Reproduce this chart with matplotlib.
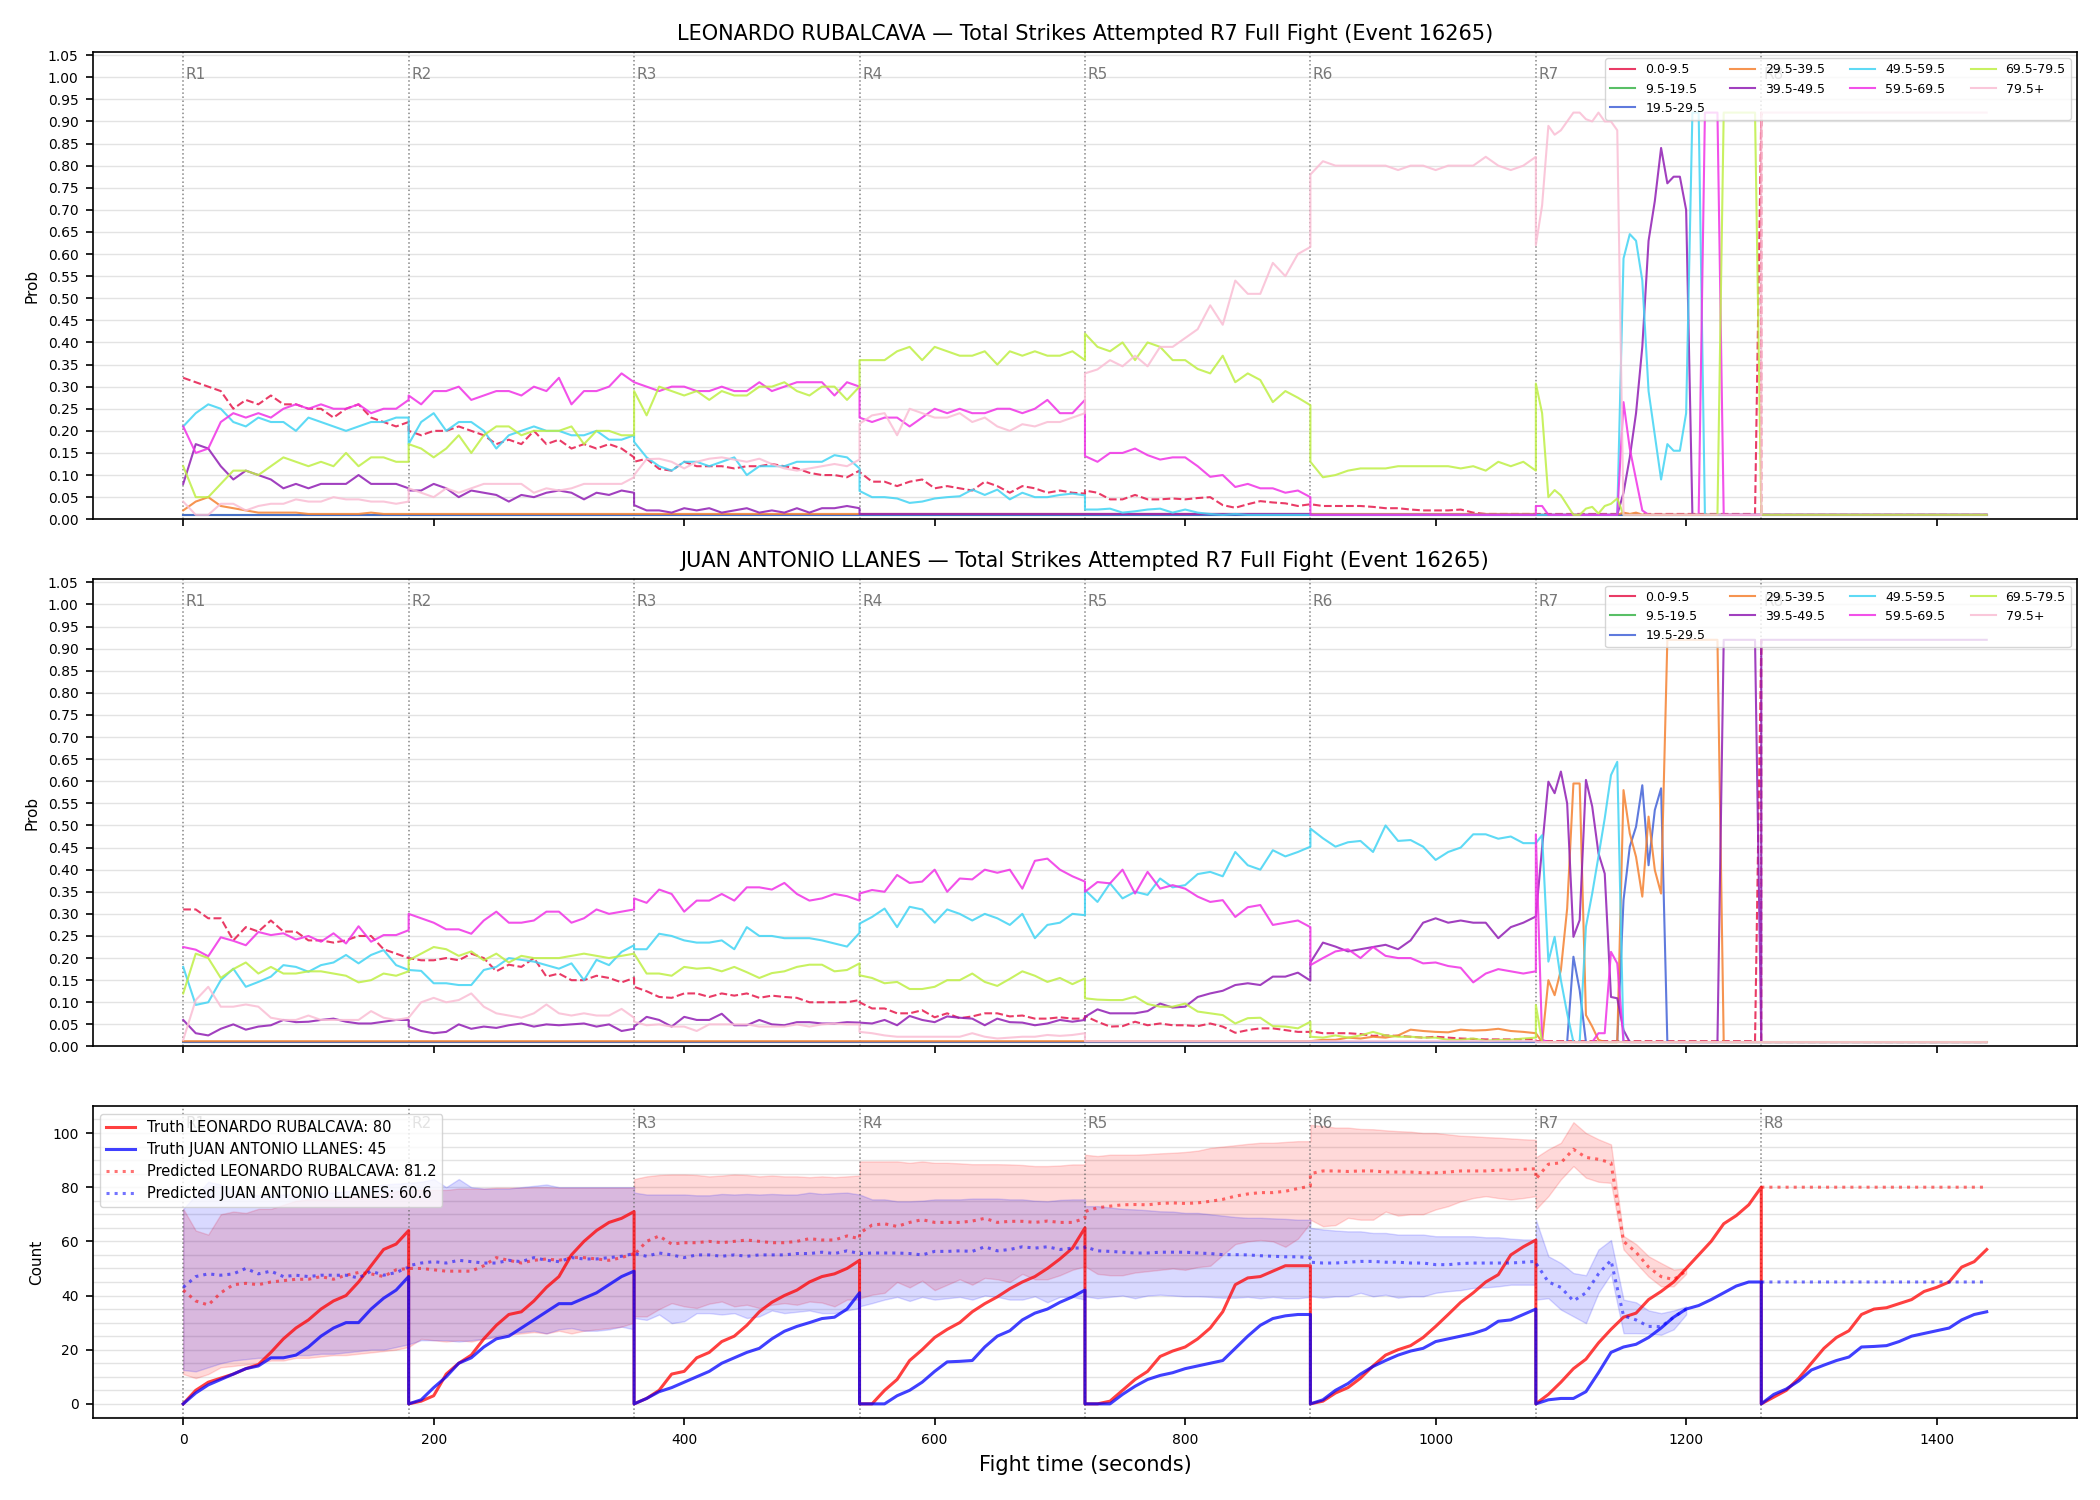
import numpy as np
import matplotlib.pyplot as plt
import matplotlib.transforms as mtransforms
from matplotlib.lines import Line2D
from matplotlib.ticker import MultipleLocator, FormatStrFormatter

nan = float("nan")

fighter_a = "LEONARDO RUBALCAVA"
fighter_b = "JUAN ANTONIO LLANES"
stat_title = "Total Strikes Attempted R7 Full Fight (Event 16265)"

round_starts = [0, 180, 360, 540, 720, 900, 1080, 1260]
round_names = ["R1", "R2", "R3", "R4", "R5", "R6", "R7", "R8"]
# seconds between samples inside each round (R7 is denser)
prob_steps = [10, 10, 10, 10, 10, 10, 5, 10]
count_steps = [10, 10, 10, 10, 10, 10, 10, 10]

bin_labels = ["0.0-9.5", "9.5-19.5", "19.5-29.5", "29.5-39.5", "39.5-49.5",
              "49.5-59.5", "59.5-69.5", "69.5-79.5", "79.5+"]
bin_colors = ["#e6194b", "#3cb44b", "#4363d8", "#f58231", "#911eb4",
              "#42d4f4", "#f032e6", "#bfef45", "#fabed4"]

truth_a = 80
truth_b = 45
pred_a = 81.2
pred_b = 60.6

# ---------------- bin probabilities, LEONARDO RUBALCAVA ----------------
rub_0 = ([0.32, 0.31, 0.30, 0.29, 0.25, 0.27, 0.26, 0.28, 0.26, 0.26, 0.25, 0.25, 0.23, 0.25, 0.26, 0.23, 0.22, 0.21, 0.22]
         + [0.20, 0.19, 0.20, 0.20, 0.21, 0.20, 0.19, 0.17, 0.18, 0.17, 0.20, 0.17, 0.18, 0.16, 0.17, 0.16, 0.17, 0.16, 0.14]
         + [0.13, 0.137, 0.114, 0.11, 0.13, 0.12, 0.12, 0.12, 0.115, 0.12, 0.12, 0.125, 0.12, 0.115, 0.105, 0.10, 0.10, 0.095, 0.11]
         + [0.107, 0.085, 0.085, 0.075, 0.085, 0.09, 0.07, 0.075, 0.07, 0.065, 0.085, 0.075, 0.06, 0.075, 0.07, 0.06, 0.065, 0.06, 0.058]
         + [0.065, 0.06, 0.045, 0.045, 0.055, 0.045, 0.045, 0.047, 0.045, 0.048, 0.05, 0.032, 0.026, 0.034, 0.041, 0.038, 0.036, 0.03, 0.034]
         + [0.034, 0.03, 0.03, 0.03, 0.03, 0.028, 0.025, 0.025, 0.022, 0.02, 0.02, 0.02, 0.022, 0.015, 0.012, 0.012, 0.012, 0.012, 0.012]
         + [0.012] * 36 + [0.92]
         + [0.01] * 19)
rub_10 = [0.01] * 170
rub_20 = [0.01] * 170
rub_30 = ([0.02, 0.04, 0.05, 0.03, 0.025, 0.02, 0.015, 0.015, 0.015, 0.015, 0.012, 0.012, 0.012, 0.012, 0.012, 0.015, 0.012, 0.012, 0.012]
          + [0.012] * 95
          + [0.01] * 14 + [0.015, 0.012, 0.015] + [0.01] * 20
          + [0.01] * 19)
rub_40 = ([0.08, 0.17, 0.16, 0.12, 0.09, 0.11, 0.10, 0.09, 0.07, 0.08, 0.07, 0.08, 0.08, 0.08, 0.10, 0.08, 0.08, 0.08, 0.07]
          + [0.065, 0.065, 0.08, 0.07, 0.05, 0.065, 0.06, 0.055, 0.04, 0.055, 0.05, 0.06, 0.065, 0.06, 0.045, 0.06, 0.055, 0.065, 0.06]
          + [0.032, 0.02, 0.02, 0.015, 0.025, 0.02, 0.025, 0.015, 0.02, 0.025, 0.015, 0.02, 0.015, 0.025, 0.015, 0.025, 0.025, 0.03, 0.025]
          + [0.012] * 38
          + [0.01] * 19
          + [0.01] * 14 + [0.06, 0.14, 0.24, 0.39, 0.63, 0.72, 0.84, 0.76, 0.775, 0.775, 0.70] + [0.01] * 12
          + [0.01] * 19)
rub_50 = ([0.21, 0.24, 0.26, 0.25, 0.22, 0.21, 0.23, 0.22, 0.22, 0.20, 0.23, 0.22, 0.21, 0.20, 0.21, 0.22, 0.22, 0.23, 0.23]
          + [0.17, 0.22, 0.24, 0.20, 0.22, 0.22, 0.20, 0.16, 0.19, 0.20, 0.21, 0.20, 0.20, 0.19, 0.19, 0.20, 0.18, 0.18, 0.19]
          + [0.175, 0.14, 0.12, 0.11, 0.13, 0.13, 0.12, 0.13, 0.14, 0.10, 0.12, 0.12, 0.12, 0.13, 0.13, 0.13, 0.145, 0.14, 0.115]
          + [0.064, 0.05, 0.05, 0.047, 0.037, 0.04, 0.047, 0.05, 0.052, 0.067, 0.055, 0.067, 0.045, 0.06, 0.05, 0.05, 0.055, 0.058, 0.054]
          + [0.022, 0.022, 0.024, 0.015, 0.018, 0.022, 0.024, 0.015, 0.022, 0.015, 0.012, 0.01, 0.012, 0.01, 0.01, 0.01, 0.01, 0.01, 0.01]
          + [0.01] * 19
          + [0.01] * 14 + [0.59, 0.645, 0.63, 0.54, 0.29, 0.19, 0.09, 0.17, 0.155, 0.155, 0.24, 0.92, 0.92] + [0.01] * 10
          + [0.01] * 19)
rub_60 = ([0.21, 0.15, 0.16, 0.22, 0.24, 0.23, 0.24, 0.23, 0.25, 0.26, 0.25, 0.26, 0.25, 0.25, 0.26, 0.24, 0.25, 0.25, 0.27]
          + [0.28, 0.26, 0.29, 0.29, 0.30, 0.27, 0.28, 0.29, 0.29, 0.28, 0.30, 0.29, 0.32, 0.26, 0.29, 0.29, 0.30, 0.33, 0.31]
          + [0.31, 0.30, 0.29, 0.30, 0.30, 0.29, 0.29, 0.30, 0.29, 0.29, 0.31, 0.29, 0.30, 0.31, 0.31, 0.31, 0.28, 0.31, 0.30]
          + [0.23, 0.22, 0.23, 0.23, 0.21, 0.23, 0.25, 0.24, 0.25, 0.24, 0.24, 0.25, 0.25, 0.24, 0.25, 0.27, 0.24, 0.24, 0.27]
          + [0.143, 0.13, 0.15, 0.15, 0.16, 0.145, 0.135, 0.14, 0.14, 0.12, 0.096, 0.10, 0.073, 0.08, 0.07, 0.07, 0.06, 0.065, 0.05]
          + [0.01] * 19
          + [0.03, 0.03] + [0.01] * 12 + [0.265, 0.16, 0.09, 0.02] + [0.01] * 9 + [0.92] * 3 + [0.01] * 7
          + [0.01] * 19)
rub_70 = ([0.12, 0.05, 0.05, 0.08, 0.11, 0.11, 0.10, 0.12, 0.14, 0.13, 0.12, 0.13, 0.12, 0.15, 0.12, 0.14, 0.14, 0.13, 0.13]
          + [0.17, 0.16, 0.14, 0.16, 0.19, 0.15, 0.19, 0.21, 0.21, 0.19, 0.20, 0.20, 0.20, 0.21, 0.17, 0.20, 0.20, 0.19, 0.19]
          + [0.29, 0.235, 0.30, 0.29, 0.28, 0.29, 0.27, 0.29, 0.28, 0.28, 0.30, 0.30, 0.31, 0.29, 0.28, 0.30, 0.30, 0.27, 0.30]
          + [0.36, 0.36, 0.36, 0.38, 0.39, 0.36, 0.39, 0.38, 0.37, 0.37, 0.38, 0.35, 0.38, 0.37, 0.38, 0.37, 0.37, 0.38, 0.36]
          + [0.42, 0.39, 0.38, 0.40, 0.36, 0.40, 0.39, 0.36, 0.36, 0.34, 0.33, 0.37, 0.31, 0.33, 0.315, 0.265, 0.29, 0.275, 0.258]
          + [0.13, 0.095, 0.10, 0.11, 0.115, 0.115, 0.115, 0.12, 0.12, 0.12, 0.12, 0.12, 0.115, 0.12, 0.11, 0.13, 0.12, 0.13, 0.11]
          + [0.307, 0.24, 0.05, 0.066, 0.054, 0.032, 0.01, 0.01, 0.024, 0.028, 0.013, 0.03, 0.035, 0.047] + [0.01] * 16 + [0.92] * 6 + [0.01]
          + [0.01] * 19)
rub_80 = ([0.04, 0.01, 0.01, 0.035, 0.035, 0.02, 0.03, 0.035, 0.035, 0.045, 0.04, 0.04, 0.05, 0.045, 0.045, 0.04, 0.04, 0.035, 0.04]
          + [0.07, 0.06, 0.05, 0.07, 0.06, 0.07, 0.08, 0.08, 0.08, 0.08, 0.06, 0.07, 0.065, 0.07, 0.08, 0.08, 0.08, 0.08, 0.095]
          + [0.10, 0.136, 0.137, 0.13, 0.115, 0.13, 0.137, 0.14, 0.135, 0.13, 0.137, 0.125, 0.115, 0.11, 0.115, 0.12, 0.125, 0.12, 0.135]
          + [0.216, 0.235, 0.24, 0.19, 0.25, 0.24, 0.23, 0.23, 0.24, 0.22, 0.23, 0.21, 0.20, 0.215, 0.21, 0.22, 0.22, 0.23, 0.24]
          + [0.33, 0.339, 0.36, 0.346, 0.37, 0.346, 0.39, 0.39, 0.41, 0.43, 0.484, 0.44, 0.54, 0.51, 0.51, 0.58, 0.55, 0.60, 0.616]
          + [0.78, 0.81, 0.80, 0.80, 0.80, 0.80, 0.80, 0.79, 0.80, 0.80, 0.79, 0.80, 0.80, 0.80, 0.82, 0.80, 0.79, 0.80, 0.82]
          + [0.62, 0.71, 0.89, 0.87, 0.88, 0.90, 0.92, 0.92, 0.905, 0.90, 0.92, 0.90, 0.90, 0.88] + [0.01] * 23
          + [0.92] * 19)

# ---------------- bin probabilities, JUAN ANTONIO LLANES ----------------
lla_0 = ([0.31, 0.31, 0.29, 0.29, 0.24, 0.27, 0.26, 0.285, 0.26, 0.26, 0.24, 0.24, 0.235, 0.24, 0.25, 0.25, 0.22, 0.21, 0.20]
         + [0.20, 0.195, 0.195, 0.20, 0.195, 0.21, 0.20, 0.17, 0.185, 0.18, 0.20, 0.158, 0.165, 0.15, 0.15, 0.16, 0.155, 0.145, 0.155]
         + [0.135, 0.125, 0.112, 0.11, 0.12, 0.12, 0.112, 0.12, 0.115, 0.12, 0.11, 0.115, 0.112, 0.11, 0.10, 0.10, 0.10, 0.10, 0.105]
         + [0.10, 0.086, 0.086, 0.075, 0.075, 0.082, 0.066, 0.075, 0.064, 0.068, 0.075, 0.075, 0.068, 0.07, 0.063, 0.063, 0.066, 0.063, 0.063]
         + [0.069, 0.056, 0.045, 0.046, 0.056, 0.048, 0.052, 0.048, 0.048, 0.046, 0.052, 0.045, 0.031, 0.037, 0.041, 0.041, 0.037, 0.033, 0.033]
         + [0.035, 0.03, 0.03, 0.03, 0.028, 0.024, 0.025, 0.024, 0.022, 0.02, 0.022, 0.02, 0.018, 0.017, 0.016, 0.016, 0.016, 0.016, 0.016]
         + [0.012] * 36 + [0.92]
         + [0.01] * 19)
lla_10 = [0.01] * 170
lla_20 = ([0.01] * 114
          + [0.01] * 6 + [0.203, 0.127] + [0.01] * 6 + [0.331, 0.452, 0.497, 0.591, 0.41, 0.535, 0.584] + [0.01] * 16
          + [0.01] * 19)
lla_30 = ([0.012] * 95
          + [0.012, 0.015, 0.015, 0.02, 0.018, 0.022, 0.02, 0.025, 0.038, 0.035, 0.033, 0.032, 0.038, 0.036, 0.037, 0.04, 0.035, 0.033, 0.03]
          + [0.03, 0.01, 0.15, 0.116, 0.173, 0.312, 0.595, 0.595, 0.071, 0.045, 0.015, 0.01, 0.01, 0.01,
             0.58, 0.482, 0.429, 0.339, 0.52, 0.399, 0.346] + [0.92] * 9 + [0.01] * 7
          + [0.01] * 19)
lla_40 = ([0.06, 0.03, 0.025, 0.04, 0.05, 0.038, 0.045, 0.048, 0.06, 0.055, 0.056, 0.06, 0.063, 0.056, 0.052, 0.052, 0.056, 0.06, 0.06]
          + [0.045, 0.035, 0.03, 0.033, 0.05, 0.04, 0.045, 0.042, 0.048, 0.052, 0.045, 0.05, 0.048, 0.05, 0.052, 0.045, 0.05, 0.035, 0.04]
          + [0.045, 0.067, 0.06, 0.045, 0.067, 0.06, 0.06, 0.074, 0.048, 0.048, 0.06, 0.05, 0.048, 0.055, 0.055, 0.052, 0.052, 0.055, 0.054]
          + [0.054, 0.052, 0.06, 0.048, 0.069, 0.06, 0.055, 0.068, 0.065, 0.063, 0.048, 0.063, 0.055, 0.054, 0.048, 0.052, 0.06, 0.056, 0.06]
          + [0.067, 0.084, 0.075, 0.075, 0.075, 0.08, 0.097, 0.088, 0.09, 0.112, 0.12, 0.126, 0.139, 0.143, 0.139, 0.158, 0.158, 0.167, 0.149]
          + [0.19, 0.235, 0.226, 0.215, 0.22, 0.225, 0.23, 0.22, 0.24, 0.28, 0.29, 0.28, 0.285, 0.28, 0.28, 0.245, 0.27, 0.28, 0.294]
          + [0.294, 0.45, 0.599, 0.573, 0.622, 0.55, 0.248, 0.286, 0.603, 0.543, 0.437, 0.391, 0.112, 0.109, 0.037, 0.01]
          + [0.01] * 14 + [0.92] * 6 + [0.01]
          + [0.92] * 19)
lla_50 = ([0.18, 0.094, 0.10, 0.15, 0.176, 0.135, 0.146, 0.158, 0.184, 0.18, 0.169, 0.184, 0.19, 0.207, 0.188, 0.207, 0.218, 0.184, 0.173]
          + [0.173, 0.171, 0.143, 0.143, 0.139, 0.139, 0.173, 0.18, 0.20, 0.196, 0.192, 0.184, 0.176, 0.188, 0.15, 0.196, 0.184, 0.214, 0.229]
          + [0.22, 0.22, 0.255, 0.25, 0.24, 0.235, 0.235, 0.24, 0.22, 0.27, 0.25, 0.25, 0.245, 0.245, 0.245, 0.24, 0.233, 0.226, 0.257]
          + [0.278, 0.293, 0.312, 0.27, 0.316, 0.31, 0.28, 0.31, 0.30, 0.285, 0.30, 0.29, 0.275, 0.30, 0.245, 0.275, 0.28, 0.30, 0.297]
          + [0.354, 0.327, 0.369, 0.335, 0.35, 0.343, 0.38, 0.36, 0.365, 0.39, 0.395, 0.385, 0.44, 0.41, 0.40, 0.444, 0.43, 0.44, 0.452]
          + [0.493, 0.471, 0.452, 0.462, 0.465, 0.44, 0.50, 0.465, 0.467, 0.452, 0.422, 0.44, 0.45, 0.48, 0.48, 0.47, 0.475, 0.46, 0.46]
          + [0.46, 0.478, 0.192, 0.248, 0.15, 0.075, 0.01, 0.01, 0.271, 0.346, 0.43, 0.516, 0.614, 0.644] + [0.01] * 23
          + [0.01] * 19)
lla_60 = ([0.225, 0.219, 0.204, 0.247, 0.239, 0.229, 0.259, 0.252, 0.256, 0.242, 0.25, 0.237, 0.256, 0.233, 0.272, 0.237, 0.252, 0.252, 0.263]
          + [0.30, 0.29, 0.28, 0.265, 0.265, 0.255, 0.285, 0.305, 0.28, 0.28, 0.285, 0.305, 0.305, 0.28, 0.29, 0.31, 0.30, 0.305, 0.31]
          + [0.335, 0.325, 0.355, 0.345, 0.305, 0.33, 0.33, 0.345, 0.33, 0.36, 0.36, 0.355, 0.37, 0.345, 0.33, 0.335, 0.345, 0.34, 0.33]
          + [0.346, 0.354, 0.35, 0.388, 0.37, 0.373, 0.40, 0.35, 0.38, 0.378, 0.40, 0.393, 0.40, 0.357, 0.42, 0.425, 0.40, 0.385, 0.373]
          + [0.35, 0.372, 0.369, 0.40, 0.346, 0.395, 0.357, 0.365, 0.357, 0.339, 0.327, 0.331, 0.293, 0.315, 0.32, 0.275, 0.28, 0.285, 0.27]
          + [0.184, 0.20, 0.215, 0.22, 0.20, 0.225, 0.205, 0.20, 0.20, 0.188, 0.19, 0.182, 0.178, 0.145, 0.165, 0.175, 0.17, 0.165, 0.17]
          + [0.48, 0.015] + [0.01] * 8 + [0.03, 0.03, 0.214, 0.188] + [0.01] * 23
          + [0.01] * 19)
lla_70 = ([0.12, 0.21, 0.20, 0.155, 0.175, 0.19, 0.165, 0.18, 0.165, 0.165, 0.17, 0.17, 0.165, 0.16, 0.145, 0.15, 0.165, 0.16, 0.17]
          + [0.195, 0.21, 0.225, 0.22, 0.205, 0.215, 0.195, 0.21, 0.19, 0.205, 0.20, 0.20, 0.20, 0.205, 0.21, 0.205, 0.20, 0.205, 0.21]
          + [0.21, 0.165, 0.165, 0.16, 0.18, 0.176, 0.178, 0.17, 0.18, 0.168, 0.155, 0.166, 0.17, 0.18, 0.185, 0.185, 0.17, 0.173, 0.188]
          + [0.161, 0.155, 0.143, 0.146, 0.13, 0.13, 0.135, 0.15, 0.15, 0.165, 0.146, 0.137, 0.153, 0.17, 0.16, 0.146, 0.155, 0.141, 0.154]
          + [0.109, 0.106, 0.105, 0.105, 0.113, 0.096, 0.09, 0.09, 0.097, 0.079, 0.075, 0.071, 0.052, 0.064, 0.065, 0.046, 0.045, 0.041, 0.056]
          + [0.022, 0.02, 0.025, 0.02, 0.025, 0.033, 0.025, 0.022, 0.022, 0.02, 0.02, 0.015, 0.015, 0.018, 0.013, 0.015, 0.015, 0.018, 0.02]
          + [0.094] + [0.01] * 36
          + [0.01] * 19)
lla_80 = ([0.015, 0.105, 0.135, 0.09, 0.09, 0.095, 0.09, 0.065, 0.06, 0.06, 0.07, 0.06, 0.06, 0.06, 0.06, 0.08, 0.065, 0.06, 0.065]
          + [0.065, 0.10, 0.11, 0.10, 0.105, 0.12, 0.09, 0.075, 0.07, 0.065, 0.075, 0.095, 0.075, 0.07, 0.075, 0.07, 0.07, 0.085, 0.065]
          + [0.056, 0.048, 0.05, 0.045, 0.045, 0.035, 0.05, 0.05, 0.05, 0.05, 0.045, 0.045, 0.045, 0.05, 0.045, 0.05, 0.052, 0.05, 0.05]
          + [0.033, 0.03, 0.025, 0.022, 0.022, 0.022, 0.022, 0.022, 0.022, 0.03, 0.022, 0.018, 0.02, 0.022, 0.022, 0.026, 0.024, 0.026, 0.03]
          + [0.012] * 38
          + [0.01] * 37
          + [0.01] * 19)

# ---------------- cumulative strike counts (per round) ----------------
truth_red = ([0, 5, 8, 9.5, 11, 13, 14.5, 19, 24, 28, 31, 35, 38, 40, 45, 51, 57, 59, 64]
             + [0, 1, 3, 11, 15, 18, 24, 29, 33, 34, 38, 43, 47, 55, 60, 64, 67, 68.5, 71]
             + [0, 2, 5, 11, 12, 17, 19, 23, 25, 29, 34, 37.5, 40, 42, 45, 47, 48, 50, 53]
             + [0, 0, 5, 9, 16, 20, 24.5, 27.5, 30, 34, 37, 39.5, 42.5, 45, 47, 50, 53.5, 57.5, 65]
             + [0, 0, 1, 5, 9, 12, 17.5, 19.5, 21, 24, 28, 34, 44, 46.5, 47, 49, 51, 51, 51]
             + [0, 1, 4, 6, 9.5, 14, 18, 20, 21.5, 24.5, 28.6, 33, 37.5, 41, 45, 47.7, 55, 58, 60.5]
             + [0, 3.5, 8, 13, 16.5, 22.5, 27.5, 32, 33.5, 38.5, 41.5, 45, 50, 55, 60, 66.5, 69.5, 73.5, 80]
             + [0, 2.5, 5, 9.5, 15, 20.5, 24.5, 27, 33, 35, 35.5, 37, 38.5, 41.5, 43, 45, 50.5, 52.5, 57])
truth_blue = ([0, 4, 7, 9, 11, 13, 14, 17, 17, 18, 21, 25, 28, 30, 30, 35, 39, 42, 47]
              + [0, 1.5, 6, 10, 15, 17, 21, 24, 25, 28, 31, 34, 37, 37, 39, 41, 44, 47, 49]
              + [0, 2, 4.5, 6, 8, 10, 12, 15, 17, 19, 20.5, 24, 26.8, 28.6, 30, 31.5, 32, 35, 41]
              + [0, 0, 0, 3, 5, 8, 12, 15.5, 15.7, 16, 21, 25, 27, 31, 33.5, 35, 37.5, 39.5, 42]
              + [0, 0, 0, 3.5, 6.5, 9, 10.5, 11.5, 13, 14, 15, 16, 20.5, 25, 29, 31.5, 32.5, 33, 33]
              + [0, 1.5, 5, 7.5, 11, 13.8, 16, 18, 19.5, 20.5, 23, 24, 25, 26, 27.5, 30.5, 31, 33, 35]
              + [0, 1.5, 2, 2, 4.5, 11.5, 19, 21, 22, 24.5, 28, 32, 35, 36.3, 38.5, 41, 43.5, 45, 45]
              + [0, 3.5, 5.5, 8.5, 12.5, 14.3, 16, 17.3, 21, 21.2, 21.5, 23, 25, 26, 27, 28, 31, 33, 34])
pred_red = ([42, 38, 36.5, 41, 44, 44.5, 44, 45, 45.5, 46, 46, 47, 46, 47.5, 48.5, 48, 47, 49.5, 50]
            + [50, 50, 49.5, 49, 49, 49, 51, 54, 53, 52, 53, 53.5, 53, 54, 54, 53.5, 53, 54, 55.5]
            + [55, 60, 62, 59, 59.5, 59.5, 60, 59.5, 60, 60.5, 60, 59.5, 59.5, 60, 61, 60.5, 60.5, 62, 61]
            + [63, 66, 66.5, 65.5, 67, 68, 67, 67, 67, 67.5, 68.5, 67, 67.4, 67.4, 67, 67.5, 67, 67, 68.5]
            + [71, 72.4, 73, 73.5, 73.6, 73.5, 74, 74.2, 74, 74.2, 74.8, 75.5, 76.7, 77.5, 78, 78, 78.5, 79.5, 80.4]
            + [85, 86, 86, 85.8, 86, 86, 85.6, 85.6, 85.6, 85.3, 85.3, 85.6, 86, 86, 86, 86.3, 86.3, 86.6, 86.8]
            + [83, 88.5, 89, 94, 91, 90.3, 89, 60, 56, 50.5, 47, 45.9, 49] + [nan] * 6
            + [80] * 19)
pred_blue = ([43, 47, 48, 47.5, 48, 50, 48, 49, 47, 47.5, 47, 47.5, 47.5, 47.5, 46.5, 49, 47.5, 48.5, 50.5]
             + [51, 52, 52.5, 52, 53, 52.5, 52, 52, 53, 52.5, 54, 53, 52.5, 54, 53.5, 53.5, 54, 54.5, 55.5]
             + [55.5, 54.5, 55.7, 55, 54, 55, 55, 54.5, 55, 54.5, 55, 55, 55, 55.5, 55.5, 56, 55.5, 56.5, 55.5]
             + [55.5, 55.7, 55.7, 55.7, 55.5, 55, 56.3, 56.3, 56.5, 56.3, 58, 56.5, 57, 58, 57.5, 58, 57, 57.5, 57.6]
             + [58, 56.5, 56.3, 56, 55.7, 55.7, 56, 56, 56, 55.7, 55.5, 55.1, 55.1, 55, 54.7, 54.5, 54.3, 54.3, 54]
             + [52.3, 52, 52, 52.3, 52.6, 52.6, 52.3, 52.3, 52, 52, 51.4, 51.4, 51.8, 52, 52, 52, 52, 52.3, 52.6]
             + [52, 45, 43, 38, 41, 48, 53, 32.5, 31, 28.6, 28.5, 32, 35] + [nan] * 6
             + [45] * 19)
band_red_hi = ([72, 64, 62.5, 70, 71, 70.5, 72, 72, 73.5, 75, 75.5, 75.5, 75.5, 76, 76.5, 77, 77.5, 78.5, 79]
               + [79, 79, 79, 79, 79.5, 79.5, 79.5, 79.8, 79.8, 79.8, 80, 80, 79.8, 79.8, 79.8, 79.8, 79.8, 79.8, 79.8]
               + [83, 84, 84.5, 84.7, 84.7, 84.5, 84, 84.3, 84.7, 84.5, 84, 84.3, 84, 84, 83.7, 84, 83.7, 84, 84.3]
               + [89.5, 89.5, 89.5, 89.5, 89, 89.5, 89, 89, 88.8, 88.5, 88.5, 88.5, 88.4, 88.2, 87.8, 87.8, 88, 88.4, 88.4]
               + [92, 91.5, 92, 92, 92, 92.2, 92.5, 92.7, 93, 93.5, 94.5, 95, 95.5, 96, 96.4, 96.4, 96.7, 97, 97]
               + [103, 102.6, 102, 102, 101.5, 101.4, 101, 100.7, 100.5, 100, 100, 99.5, 99, 98.8, 98.5, 98.3, 98, 97.7, 97.5]
               + [91, 94, 96.4, 104, 100, 97.7, 95.8, 62, 59, 54.5, 52, 49.6, 50] + [nan] * 6
               + [nan] * 19)
band_red_lo = ([11, 9.5, 11, 13.5, 14, 14.5, 15, 16, 16, 17, 17, 17.5, 18, 18, 18.5, 19, 19.5, 20, 21]
               + [21, 24, 23.5, 23, 23.5, 23, 24, 24.5, 25.5, 26, 26.5, 26, 27, 26, 27, 27.5, 28, 28.5, 30]
               + [32.3, 32.3, 35, 37.2, 36, 35.4, 37, 37.8, 36, 36.6, 35.4, 36.6, 37.2, 36.6, 37.8, 37.4, 36, 38.5, 38.5]
               + [39, 40.3, 41, 45, 43, 45.5, 42, 44, 46, 44, 46.5, 46, 45, 48, 46, 46, 47.5, 49.5, 50.8]
               + [50.8, 48, 47.5, 47.5, 48.5, 49, 49.5, 50, 49.5, 50.5, 51, 55, 59, 60, 60.5, 60, 58, 61, 66.8]
               + [68, 65.6, 66, 68.7, 68, 68, 71, 69.5, 70, 70, 71.8, 73, 74.8, 76, 76.7, 76, 75.5, 76, 76.7]
               + [71.8, 76.7, 82.9, 87.8, 83.5, 82, 81.6, 57, 52, 47, 43.4, 43.4, 48] + [nan] * 6
               + [nan] * 19)
band_blue_hi = ([72, 77, 82, 81, 79, 77.5, 77, 77, 77.3, 77.3, 77.5, 78, 78, 78.5, 79, 80, 81, 81.3, 81.6]
                + [81.6, 82, 83, 80, 83, 80, 79.5, 79.5, 79.5, 80, 80.5, 81, 80, 80, 80, 80, 80, 80, 80]
                + [78, 77.3, 77.3, 77.3, 77.3, 77, 77, 77.5, 77.3, 77.5, 77.3, 77.5, 77.3, 77.3, 78, 77.5, 77.8, 78, 77.3]
                + [77.3, 75.5, 75.5, 74.8, 74.8, 75, 75.5, 75.5, 75.5, 75.8, 75.8, 75.8, 75.5, 75.5, 75, 74.8, 75.3, 75.5, 75.5]
                + [73, 73, 72.5, 72, 71.8, 71.5, 71.1, 71, 70.5, 70.5, 70, 69.5, 69, 68.7, 68.7, 68.5, 68.3, 68, 68]
                + [65, 64.4, 64, 63.7, 63.7, 63.1, 63.1, 62.5, 62.5, 62.5, 61.9, 61.9, 61.9, 61.9, 61.5, 61.5, 61, 60.7, 60.7]
                + [68, 54.5, 52, 48.3, 47.5, 57, 60.5, 38.5, 37.5, 34.5, 33.5, 34.5, 36] + [nan] * 6
                + [nan] * 19)
band_blue_lo = ([12.5, 12, 13.5, 15, 16, 16.5, 17, 17, 17.5, 18, 18, 18.5, 18.5, 19, 19.5, 20, 20, 21, 22]
                + [22, 23.5, 23.5, 23.5, 23, 23.5, 24, 25, 26, 26.5, 27, 26, 27.5, 28, 27, 27, 27.5, 28.5, 27.5]
                + [31.7, 31, 33, 29.8, 30.5, 33.5, 33.5, 33, 33.5, 31.7, 32.3, 34.5, 33.5, 34, 34.5, 33.5, 33.5, 34.5, 35.4]
                + [36, 37.2, 38.5, 39.5, 38, 39.5, 38.5, 39, 39.5, 38.5, 40, 39.5, 38.5, 38.5, 39.7, 37.5, 39.5, 39.5, 38.5]
                + [39.7, 39, 39.5, 40, 39, 40, 40.3, 40, 39.7, 39.7, 39.5, 39.2, 39.2, 39.5, 39, 39.5, 39, 39, 39.5]
                + [39.7, 39.2, 39.7, 39.7, 41, 39.7, 40.3, 39.2, 39.7, 39.7, 41, 41.6, 42, 42.8, 43, 43.4, 44, 44, 44]
                + [38.5, 39, 34.8, 32.3, 29.8, 41, 48, 26.1, 26.1, 26, 25.5, 27.5, 33] + [nan] * 6
                + [nan] * 19)


def sample_times(steps):
    t = []
    for start, step in zip(round_starts, steps):
        t.extend(start + np.arange(0, 181, step))
    return np.array(t, dtype=float)


t_prob = sample_times(prob_steps)
t_count = sample_times(count_steps)

rub_series = [rub_0, rub_10, rub_20, rub_30, rub_40, rub_50, rub_60, rub_70, rub_80]
lla_series = [lla_0, lla_10, lla_20, lla_30, lla_40, lla_50, lla_60, lla_70, lla_80]
for s in rub_series + lla_series:
    assert len(s) == len(t_prob), len(s)
for s in [truth_red, truth_blue, pred_red, pred_blue, band_red_hi, band_red_lo, band_blue_hi, band_blue_lo]:
    assert len(s) == len(t_count), len(s)

# the original was drawn at 150 dpi; scale ticks/spines to match at 100 dpi
plt.rcParams.update({
    "axes.linewidth": 1.2,
    "xtick.major.size": 5.25, "ytick.major.size": 5.25,
    "xtick.major.width": 1.2, "ytick.major.width": 1.2,
    "xtick.major.pad": 5.25, "ytick.major.pad": 5.25,
    "xtick.labelsize": 10, "ytick.labelsize": 10,
})


def draw_rounds(ax):
    trans = mtransforms.blended_transform_factory(ax.transData, ax.transAxes)
    for start, name in zip(round_starts, round_names):
        ax.axvline(start, color="dimgray", linestyle=":", linewidth=1.1, alpha=0.8, zorder=1)
        ax.text(start + 2, 0.968, name, transform=trans, ha="left", va="top",
                fontsize=11, color="dimgray", alpha=0.9)


def prob_panel(ax, series, title):
    for i, (vals, col) in enumerate(zip(series, bin_colors)):
        ax.plot(t_prob, vals, color=col, linewidth=1.5, alpha=0.85,
                linestyle="--" if i == 0 else "-")
    draw_rounds(ax)
    ax.set_ylim(0, 1.057)
    ax.set_yticks(np.arange(0, 1.0501, 0.05))
    ax.yaxis.set_major_formatter(FormatStrFormatter("%.2f"))
    ax.grid(axis="y", color="#e3e3e3", linewidth=1.0)
    ax.set_axisbelow(True)
    ax.set_ylabel("Prob", fontsize=11, labelpad=6)
    ax.set_title(title, fontsize=15, pad=9)
    ax.tick_params(labelbottom=False)
    handles = [Line2D([], [], color=c, linewidth=1.5, alpha=0.85) for c in bin_colors]
    ax.legend(handles, bin_labels, loc="upper right", ncol=4, fontsize=9, framealpha=0.8)


fig = plt.figure(figsize=(21, 15), dpi=100)
gs = fig.add_gridspec(3, 1, height_ratios=[1.5, 1.5, 1], left=0.0443, right=0.989,
                      top=0.9653, bottom=0.0547, hspace=0.1445)
ax1 = fig.add_subplot(gs[0])
ax2 = fig.add_subplot(gs[1], sharex=ax1)
ax3 = fig.add_subplot(gs[2], sharex=ax1)

prob_panel(ax1, rub_series, f"{fighter_a} \u2014 {stat_title}")
prob_panel(ax2, lla_series, f"{fighter_b} \u2014 {stat_title}")

# bottom: running counts
ax3.fill_between(t_count, band_red_lo, band_red_hi, color="red", alpha=0.15)
ax3.fill_between(t_count, band_blue_lo, band_blue_hi, color="blue", alpha=0.15)
ax3.plot(t_count, truth_red, color="red", linewidth=2.2, alpha=0.75, label=f"Truth {fighter_a}: {truth_a}")
ax3.plot(t_count, truth_blue, color="blue", linewidth=2.2, alpha=0.75, label=f"Truth {fighter_b}: {truth_b}")
ax3.plot(t_count, pred_red, color="red", linewidth=2.2, alpha=0.55, linestyle=":",
         label=f"Predicted {fighter_a}: {pred_a}")
ax3.plot(t_count, pred_blue, color="blue", linewidth=2.2, alpha=0.55, linestyle=":",
         label=f"Predicted {fighter_b}: {pred_b}")
draw_rounds(ax3)
ax3.set_ylim(-5.2, 109.8)
ax3.set_yticks([0, 20, 40, 60, 80, 100])
ax3.yaxis.set_minor_locator(MultipleLocator(5))
ax3.tick_params(axis="y", which="minor", length=0)
ax3.grid(axis="y", which="both", color="#e3e3e3", linewidth=1.0)
ax3.set_axisbelow(True)
ax3.set_ylabel("Count", fontsize=11, labelpad=6)
ax3.set_xlabel("Fight time (seconds)", fontsize=15, labelpad=6)
ax3.legend(loc="upper left", fontsize=10.5, framealpha=0.8)

ax1.set_xlim(-72, 1512)
ax1.set_xticks([0, 200, 400, 600, 800, 1000, 1200, 1400])

fig.savefig("out.png", dpi=100)
